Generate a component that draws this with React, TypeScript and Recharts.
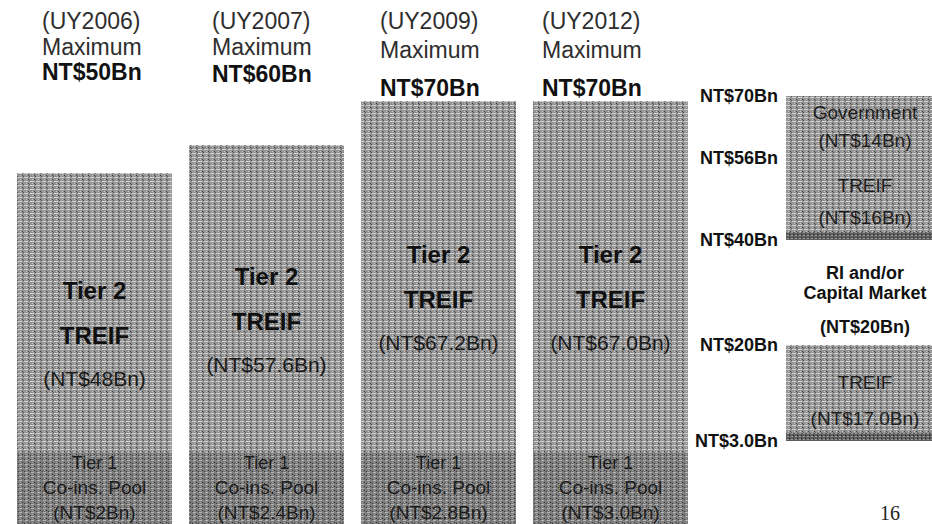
import React from 'react';
import { BarChart, Bar, XAxis, YAxis, LabelList } from 'recharts';

// underwriting years and their capacity (NT$ Bn)
const YEARS = ['UY2006', 'UY2007', 'UY2009', 'UY2012'];
const MAX_CAPACITY = ['50', '60', '70', '70'];
const TIER1_AMOUNTS = ['2', '2.4', '2.8', '3.0'];
const TIER2_AMOUNTS = ['48', '57.6', '67.2', '67.0'];

// layered programme on the right, bottom up
const LAYER_BASE = '3.0';
const LAYER_NAMES = [['TREIF'], ['RI and/or', 'Capital Market'], ['TREIF'], ['Government']];
const LAYER_AMOUNTS = ['17.0', '20', '16', '14'];
const LAYER_TICKS = ['3.0', '20', '40', '56', '70'];

const PAGE_NO = '16';

const FONT = '"Liberation Sans", Arial, Helvetica, sans-serif';
const H = 540;

// the slide is schematic, not drawn to a linear axis: value -> pixel row breakpoints
const LEFT_STOPS = [0, 2, 3, 50, 60, 70];
const LEFT_ROWS = [540, 452, 452, 173, 145, 101];
const RIGHT_STOPS = [0, 3, 20, 40, 56, 70];
const RIGHT_ROWS = [458, 441, 345, 240, 158, 96];

// header text layout per column
const HEADER_INSET = [25, 23, 19, 9];
const HEADER_ROWS = [
  [21, 47, 72],
  [21, 47, 74],
  [21, 50, 88],
  [21, 50, 88],
];

function schematicScale(stops: number[], rows: number[]): any {
  let dom = [stops[0], stops[stops.length - 1]];
  let rng = [H, 0];
  const fr = rows.map((r) => (H - r) / H);
  const s: any = (v: number) => {
    let i = 1;
    while (i < stops.length - 1 && v > stops[i]) i++;
    const a = stops[i - 1];
    const b = stops[i];
    const t = (v - a) / (b - a);
    const f = fr[i - 1] + t * (fr[i] - fr[i - 1]);
    return rng[0] + f * (rng[1] - rng[0]);
  };
  s.domain = (d?: number[]) => {
    if (d === undefined) return dom;
    dom = d.slice();
    return s;
  };
  s.range = (r?: number[]) => {
    if (r === undefined) return rng;
    rng = r.slice();
    return s;
  };
  s.copy = () => schematicScale(stops, rows).domain(dom).range(rng);
  s.ticks = () => stops.slice();
  s.nice = () => s;
  s.clamp = () => s;
  return s;
}

const leftData = YEARS.map((year, i) => ({
  year,
  tier1: parseFloat(TIER1_AMOUNTS[i]),
  tier2: parseFloat(TIER2_AMOUNTS[i]),
}));

const layerData = [
  {
    name: 'programme',
    base: parseFloat(LAYER_BASE),
    l0: parseFloat(LAYER_AMOUNTS[0]),
    l1: parseFloat(LAYER_AMOUNTS[1]),
    l2: parseFloat(LAYER_AMOUNTS[2]),
    l3: parseFloat(LAYER_AMOUNTS[3]),
  },
];

function Grain() {
  return (
    <defs>
      <pattern id="grainLight" width="6" height="4" patternUnits="userSpaceOnUse">
        <rect width="6" height="4" fill="#939393" />
        <rect x="0" y="1" width="4" height="1" fill="#d2d2d2" />
        <rect x="4" y="3" width="1" height="1" fill="#3c3c3c" />
        <rect x="2" y="3" width="1" height="1" fill="#c4c4c4" />
        <rect x="5" y="0" width="1" height="1" fill="#5a5a5a" />
      </pattern>
      <pattern id="grainDark" width="6" height="4" patternUnits="userSpaceOnUse">
        <rect width="6" height="4" fill="#7c7c7c" />
        <rect x="1" y="0" width="3" height="1" fill="#b4b4b4" />
        <rect x="4" y="2" width="1" height="1" fill="#2e2e2e" />
        <rect x="0" y="3" width="1" height="1" fill="#3a3a3a" />
        <rect x="2" y="2" width="1" height="1" fill="#a8a8a8" />
      </pattern>
      <pattern id="grainStripe" width="4" height="3" patternUnits="userSpaceOnUse">
        <rect width="4" height="3" fill="#5e5e5e" />
        <rect x="1" y="1" width="2" height="1" fill="#9a9a9a" />
        <rect x="3" y="0" width="1" height="1" fill="#222" />
      </pattern>
    </defs>
  );
}

function HeaderLabel(props: any) {
  const { x, index } = props;
  const left = x + HEADER_INSET[index];
  const rows = HEADER_ROWS[index];
  return (
    <g fontFamily={FONT} fontSize={23}>
      <text x={left} y={rows[0]} dominantBaseline="central" fill="#2e2e2e">
        ({YEARS[index]})
      </text>
      <text x={left} y={rows[1]} dominantBaseline="central" fill="#2e2e2e">
        Maximum
      </text>
      <text x={left} y={rows[2]} dominantBaseline="central" fill="#111" fontWeight="bold">
        NT${MAX_CAPACITY[index]}Bn
      </text>
    </g>
  );
}

function Tier2Label(props: any) {
  const { x, y, width, height, index } = props;
  const cx = x + width / 2;
  const mid = y + height / 2;
  return (
    <g fontFamily={FONT} textAnchor="middle" fill="#101010">
      <text x={cx} y={mid - 22} dominantBaseline="central" fontSize={24} fontWeight="bold">
        Tier 2
      </text>
      <text x={cx} y={mid + 23} dominantBaseline="central" fontSize={24} fontWeight="bold">
        TREIF
      </text>
      <text x={cx} y={mid + 66} dominantBaseline="central" fontSize={21} fill="#1a1a1a">
        (NT${TIER2_AMOUNTS[index]}Bn)
      </text>
    </g>
  );
}

function Tier1Label(props: any) {
  const { x, y, width, index } = props;
  const cx = x + width / 2;
  return (
    <g fontFamily={FONT} textAnchor="middle" fill="#1c1c1c" fontSize={18}>
      <text x={cx} y={y + 11} dominantBaseline="central">
        Tier 1
      </text>
      <text x={cx} y={y + 35} dominantBaseline="central" fontSize={19}>
        Co-ins. Pool
      </text>
      <text x={cx} y={y + 60} dominantBaseline="central" fontSize={19}>
        (NT${TIER1_AMOUNTS[index]}Bn)
      </text>
    </g>
  );
}

// TREIF layers carry a darker band at their foot
function StripedBlock(props: any) {
  const { x, y, width, height } = props;
  return (
    <g>
      <rect x={x} y={y} width={width} height={height} fill="url(#grainLight)" />
      <rect x={x} y={y + height - 8} width={width} height={8} fill="url(#grainStripe)" />
    </g>
  );
}

function PlainBlock(props: any) {
  const { x, y, width, height } = props;
  return <rect x={x} y={y} width={width} height={height} fill="url(#grainLight)" />;
}

const LAYER_DY = [
  [-11, 25],
  [-20, 0, 34],
  [-14, 18],
  [-15, 13],
];

function layerLabel(layer: number) {
  return (props: any) => {
    const { x, y, width, height } = props;
    const cx = x + width / 2;
    const mid = y + height / 2;
    const bold = layer === 1;
    const lines = [...LAYER_NAMES[layer], `(NT$${LAYER_AMOUNTS[layer]}Bn)`];
    return (
      <g
        fontFamily={FONT}
        textAnchor="middle"
        fill={bold ? '#111' : '#1e1e1e'}
        fontSize={bold ? 18 : 19}
        fontWeight={bold ? 'bold' : 'normal'}
      >
        {lines.map((t, k) => (
          <text key={k} x={cx} y={mid + LAYER_DY[layer][k]} dominantBaseline="central">
            {t}
          </text>
        ))}
      </g>
    );
  };
}

export default function App() {
  const leftScale = schematicScale(LEFT_STOPS, LEFT_ROWS);
  const rightScale = schematicScale(RIGHT_STOPS, RIGHT_ROWS);
  const layerTicks = LAYER_TICKS.map((t) => parseFloat(t));

  return (
    <div
      style={{
        position: 'absolute',
        left: 0,
        top: 0,
        width: 932,
        height: 524,
        overflow: 'hidden',
        background: '#fff',
      }}
    >
      <div style={{ position: 'absolute', left: 0, top: 0 }}>
        <BarChart width={700} height={H} data={leftData} margin={{ top: 0, right: 4, bottom: 0, left: 8 }}>
          <Grain />
          <XAxis dataKey="year" hide />
          <YAxis hide type="number" domain={[0, 70]} scale={leftScale} ticks={[0, 70]} />
          <Bar dataKey="tier1" stackId="a" barSize={155} fill="url(#grainDark)" isAnimationActive={false}>
            <LabelList content={Tier1Label} />
          </Bar>
          <Bar dataKey="tier2" stackId="a" barSize={155} fill="url(#grainLight)" isAnimationActive={false}>
            <LabelList content={Tier2Label} />
            <LabelList content={HeaderLabel} />
          </Bar>
        </BarChart>
      </div>

      <div style={{ position: 'absolute', left: 690, top: 0 }}>
        <BarChart
          width={254}
          height={H}
          data={layerData}
          margin={{ top: 0, right: 0, bottom: 0, left: 0 }}
          barCategoryGap={0}
        >
          <Grain />
          <XAxis dataKey="name" hide />
          <YAxis
            type="number"
            width={96}
            domain={[0, 70]}
            scale={rightScale}
            ticks={layerTicks}
            interval={0}
            axisLine={false}
            tickLine={false}
            tickMargin={2}
            tickFormatter={(v: number, i: number) => `NT$${LAYER_TICKS[i]}Bn`}
            tick={{ fill: '#111', fontSize: 18, fontWeight: 'bold', fontFamily: FONT }}
          />
          <Bar dataKey="base" stackId="p" fill="none" isAnimationActive={false} />
          <Bar dataKey="l0" stackId="p" shape={StripedBlock} isAnimationActive={false}>
            <LabelList content={layerLabel(0)} />
          </Bar>
          <Bar dataKey="l1" stackId="p" fill="none" isAnimationActive={false}>
            <LabelList content={layerLabel(1)} />
          </Bar>
          <Bar dataKey="l2" stackId="p" shape={StripedBlock} isAnimationActive={false}>
            <LabelList content={layerLabel(2)} />
          </Bar>
          <Bar dataKey="l3" stackId="p" shape={PlainBlock} isAnimationActive={false}>
            <LabelList content={layerLabel(3)} />
          </Bar>
        </BarChart>
      </div>

      <div
        style={{
          position: 'absolute',
          left: 880,
          top: 501,
          fontFamily: '"Liberation Serif", "Times New Roman", serif',
          fontSize: 20,
          color: '#222',
          lineHeight: '24px',
        }}
      >
        {PAGE_NO}
      </div>
    </div>
  );
}
